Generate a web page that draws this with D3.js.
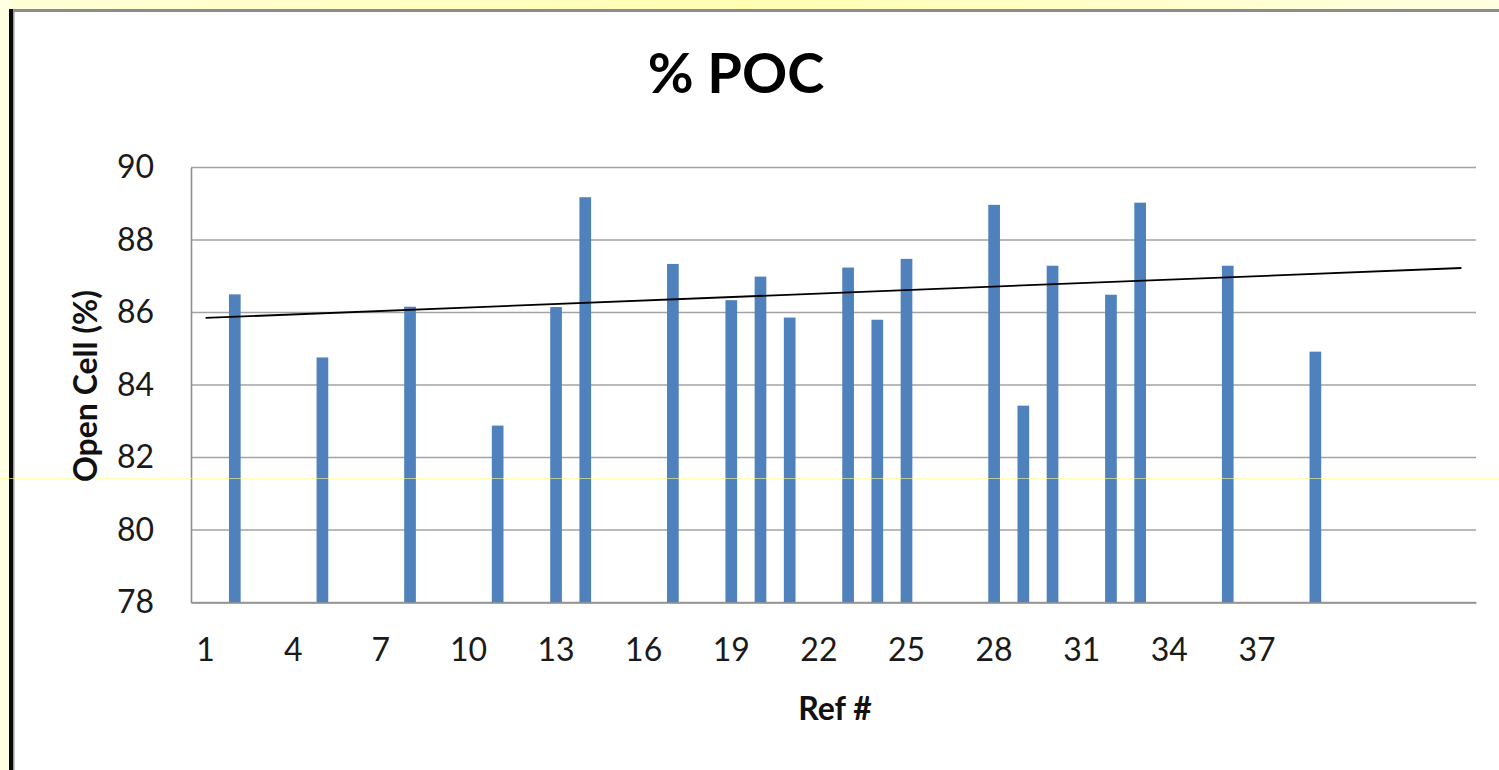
<!DOCTYPE html>
<html>
<head>
<meta charset="utf-8">
<script src="https://cdn.jsdelivr.net/npm/d3@7"></script>
<style>
  html, body { margin: 0; padding: 0; background: #ffffff; }
  svg { display: block; }
  text { font-family: Lato, "Open Sans", "DejaVu Sans", sans-serif; }
</style>
</head>
<body>
<svg id="chart" width="1499" height="770"></svg>
<script>
// ---------------- DATA ----------------
const chartTitle = "% POC";
const xAxisTitle = "Ref #";
const yAxisTitle = "Open Cell (%)";

const categories = ["1","2","3","4","5","6","7","8","9","10","11","12","13","14","15",
  "16","17","18","19","20","21","22","23","24","25","26","27","28","29","30",
  "31","32","33","34","35","36","37","38","39","40","41","42","43","44"];

const values = [null, 86.50, null, null, 84.76, null, null, 86.16, null, null,
  82.88, null, 86.15, 89.18, null, null, 87.34, null, 86.34, 86.99,
  85.86, null, 87.24, 85.80, 87.48, null, null, 88.97, 83.43, 87.29,
  null, 86.49, 89.03, null, null, 87.29, null, null, 84.92, null,
  null, null, null, null];

const xTickLabels = ["1","4","7","10","13","16","19","22","25","28","31","34","37"];
const yTicks = [78, 80, 82, 84, 86, 88, 90];

// ---------------- LAYOUT ----------------
const W = 1499, H = 770;
const plot = { left: 191, right: 1476, top: 167.5, bottom: 602.5 };

const svg = d3.select("#chart");

// page frame (yellow slide background + borders)
const defs = svg.append("defs");
const grad = defs.append("linearGradient").attr("id", "topband")
  .attr("x1", "0%").attr("x2", "100%").attr("y1", "0%").attr("y2", "0%");
grad.append("stop").attr("offset", "0%").attr("stop-color", "#ffffd8");
grad.append("stop").attr("offset", "50%").attr("stop-color", "#ffffb4");
grad.append("stop").attr("offset", "100%").attr("stop-color", "#ffffe2");

svg.append("rect").attr("x", 0).attr("y", 0).attr("width", W).attr("height", H).attr("fill", "#ffffff");
svg.append("rect").attr("x", 0).attr("y", 0).attr("width", W).attr("height", 10).attr("fill", "url(#topband)");
svg.append("rect").attr("x", 0).attr("y", 0).attr("width", 10).attr("height", H).attr("fill", "#ffffe4");
svg.append("rect").attr("x", 10).attr("y", 9).attr("width", W - 10).attr("height", 3).attr("fill", "#8c8c8c");
svg.append("rect").attr("x", 9).attr("y", 9).attr("width", 4).attr("height", H - 9).attr("fill", "#0a0a0a");
svg.append("rect").attr("x", 13).attr("y", 12).attr("width", 1.5).attr("height", H - 12).attr("fill", "#9a9a9a");

// ---------------- SCALES ----------------
const x = d3.scaleBand()
  .domain(categories)
  .range([plot.left, plot.right])
  .paddingInner(0.6)
  .paddingOuter(0.3);

const y = d3.scaleLinear()
  .domain([78, 90])
  .range([plot.bottom, plot.top]);

const xCenter = c => x(c) + x.bandwidth() / 2;

// ---------------- GRIDLINES ----------------
svg.append("g")
  .selectAll("line")
  .data(yTicks)
  .join("line")
  .attr("x1", plot.left).attr("x2", plot.right)
  .attr("y1", d => y(d)).attr("y2", d => y(d))
  .attr("stroke", "#a3a3a3")
  .attr("stroke-width", 1.6);

// ---------------- BARS ----------------
const barData = categories.map((c, i) => ({ c, v: values[i] })).filter(d => d.v !== null);
svg.append("g")
  .selectAll("rect")
  .data(barData)
  .join("rect")
  .attr("x", d => x(d.c))
  .attr("width", x.bandwidth())
  .attr("y", d => y(d.v))
  .attr("height", d => y(78) - y(d.v))
  .attr("fill", "#4f81bd");

// ---------------- AXES ----------------
const yAxis = d3.axisLeft(y).tickValues(yTicks).tickSize(0).tickPadding(37);
const gy = svg.append("g").attr("transform", `translate(${plot.left},0)`).call(yAxis);
gy.select(".domain").attr("stroke", "#8f8f8f").attr("stroke-width", 1.6);
gy.selectAll("text")
  .attr("font-size", 32)
  .attr("fill", "#1a1a1a")
  .attr("font-family", "Lato, 'Open Sans', sans-serif");

const xAxis = d3.axisBottom(x).tickValues(xTickLabels).tickSize(0).tickPadding(36);
const gx = svg.append("g").attr("transform", `translate(0,${plot.bottom})`).call(xAxis);
gx.select(".domain").attr("stroke", "#8f8f8f").attr("stroke-width", 1.6);
gx.selectAll("text")
  .attr("font-size", 32)
  .attr("fill", "#1a1a1a")
  .attr("font-family", "Lato, 'Open Sans', sans-serif");

// ---------------- TRENDLINE (least squares over category index) ----------------
const pts = values.map((v, i) => ({ xi: i + 1, v })).filter(d => d.v !== null);
const mx = d3.mean(pts, d => d.xi), my = d3.mean(pts, d => d.v);
const slope = d3.sum(pts, d => (d.xi - mx) * (d.v - my)) / d3.sum(pts, d => (d.xi - mx) ** 2);
const icpt = my - slope * mx;
const firstCat = categories[0], lastCat = categories[categories.length - 1];
const trend = [
  { c: firstCat, v: icpt + slope * 1 },
  { c: lastCat, v: icpt + slope * categories.length }
];
svg.append("path")
  .datum(trend)
  .attr("d", d3.line().x(d => xCenter(d.c)).y(d => y(d.v)))
  .attr("fill", "none")
  .attr("stroke", "#000")
  .attr("stroke-width", 1.8);

// faint screen artifact line
svg.append("line")
  .attr("x1", 0).attr("x2", W).attr("y1", 478.5).attr("y2", 478.5)
  .attr("stroke", "#ffff90").attr("stroke-opacity", 0.6).attr("stroke-width", 1);

// ---------------- TITLES ----------------
svg.append("text")
  .attr("x", 736).attr("y", 93)
  .attr("text-anchor", "middle")
  .attr("font-size", 56).attr("font-weight", "bold")
  .attr("fill", "#000")
  .text(chartTitle);

svg.append("text")
  .attr("x", 835).attr("y", 720)
  .attr("text-anchor", "middle")
  .attr("font-size", 32).attr("font-weight", "bold")
  .attr("fill", "#111")
  .text(xAxisTitle);

svg.append("text")
  .attr("transform", "translate(97,386) rotate(-90)")
  .attr("text-anchor", "middle")
  .attr("font-size", 32).attr("font-weight", "bold")
  .attr("fill", "#111")
  .text(yAxisTitle);
</script>
</body>
</html>
